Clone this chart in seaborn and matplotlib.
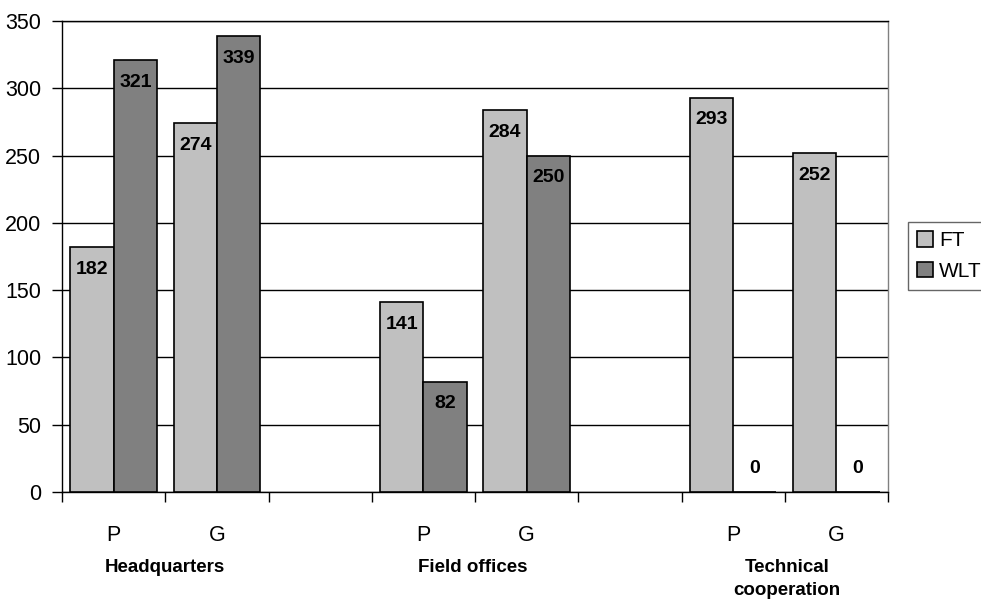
import matplotlib
matplotlib.use("Agg")
import matplotlib.pyplot as plt
import seaborn as sns
import pandas as pd
import numpy as np

# Data
slots = ["HQ-P", "HQ-G", "gap1", "FO-P", "FO-G", "gap2", "TC-P", "TC-G"]
slot_labels = ["P", "G", "", "P", "G", "", "P", "G"]
data_slots = ["HQ-P", "HQ-G", "FO-P", "FO-G", "TC-P", "TC-G"]
ft_values = [182, 274, 141, 284, 293, 252]
wlt_values = [321, 339, 82, 250, 0, 0]
series = ["FT", "WLT"]
group_names = ["Headquarters", "Field offices", "Technical\ncooperation"]
yticks = [0, 50, 100, 150, 200, 250, 300, 350]

df = pd.DataFrame({
    "slot": data_slots * 2,
    "series": ["FT"] * len(data_slots) + ["WLT"] * len(data_slots),
    "value": ft_values + wlt_values,
})

sns.set_style("white")
plt.rcParams["font.family"] = ["Liberation Sans", "DejaVu Sans"]
plt.rcParams["text.color"] = "black"
plt.rcParams["xtick.color"] = "black"
plt.rcParams["ytick.color"] = "black"
plt.rcParams["axes.labelcolor"] = "black"

fig = plt.figure(figsize=(9.81, 6.08), dpi=100)
ax = fig.add_axes([62 / 981, 1 - 492 / 608, (888 - 62) / 981, (492 - 21) / 608])

palette = {"FT": "#C0C0C0", "WLT": "#808080"}
sns.barplot(data=df, x="slot", y="value", hue="series", order=slots,
            hue_order=series, palette=palette, width=0.84, edgecolor="black",
            linewidth=1.2, saturation=1, ax=ax, legend=True, zorder=3)

ax.set_ylim(0, 350)
ax.set_xlim(-0.5, len(slots) - 0.5)
ax.set_yticks(yticks)
ax.yaxis.grid(True, color="black", linewidth=1, zorder=0)
ax.set_axisbelow(True)
ax.set_xlabel("")
ax.set_ylabel("")

# x ticks: boundary marks (major) and labels (minor)
ax.set_xticks(np.arange(-0.5, len(slots), 1.0))
ax.set_xticklabels([])
ax.set_xticks(np.arange(len(slots)), minor=True)
ax.set_xticklabels(slot_labels, minor=True, fontsize=15.5)
ax.tick_params(axis="x", which="major", direction="out", length=7, width=1,
               color="black", bottom=True)
ax.tick_params(axis="x", which="minor", length=0, pad=24)
ax.tick_params(axis="y", direction="out", length=7, width=1, color="black",
               left=True, labelsize=15.5, pad=8)

for side in ["left", "bottom", "top"]:
    ax.spines[side].set_visible(True)
    ax.spines[side].set_color("black")
    ax.spines[side].set_linewidth(1)
ax.spines["right"].set_visible(True)
ax.spines["right"].set_color("#808080")
ax.spines["right"].set_linewidth(1)

# Value labels
for cont in ax.containers:
    for rect in cont:
        h = rect.get_height()
        if np.isnan(h):
            continue
        x = rect.get_x() + rect.get_width() / 2
        if h == 0:
            ax.annotate(f"{int(h)}", (x, 0), xytext=(0, 17), textcoords="offset points",
                        ha="center", va="center", fontsize=14, fontweight="bold",
                        color="black", zorder=5)
        else:
            ax.annotate(f"{int(h)}", (x, h), xytext=(0, -16), textcoords="offset points",
                        ha="center", va="center", fontsize=14, fontweight="bold",
                        color="black", zorder=5)

# Group labels
group_x = [165 / 981, 473 / 981, 787 / 981]
for gx, name in zip(group_x, group_names):
    fig.text(gx, 1 - 559 / 608, name, ha="center", va="top", fontsize=13.5,
             fontweight="bold", linespacing=1.45, color="black",
             transform=fig.transFigure)

# Legend
leg = ax.legend(loc="center left", bbox_to_anchor=(908 / 981, 1 - 256 / 608),
                bbox_transform=fig.transFigure, frameon=True, fancybox=False,
                fontsize=15, handlelength=0.75, handleheight=0.75,
                handletextpad=0.3, borderpad=0.45, labelspacing=0.55,
                borderaxespad=0)
leg.get_frame().set_edgecolor("#404040")
leg.get_frame().set_linewidth(1)
for h in leg.legend_handles:
    h.set_edgecolor("black")
    h.set_linewidth(1.2)

fig.savefig("out.png", dpi=100)
